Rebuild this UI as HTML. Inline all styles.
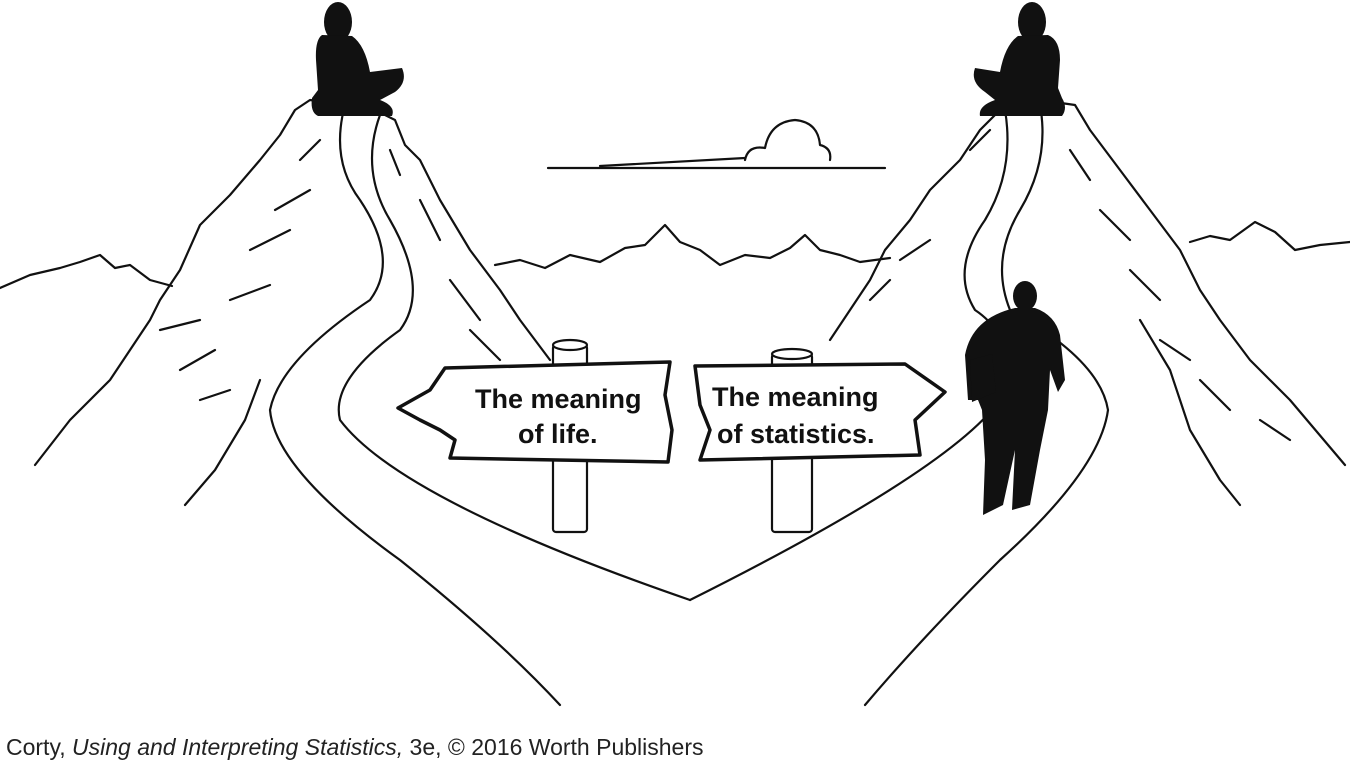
<!DOCTYPE html>
<html><head><meta charset="utf-8"><style>
html,body{margin:0;padding:0;background:#fff;}
body{width:1350px;height:767px;overflow:hidden;position:relative;}
svg{position:absolute;left:0;top:0;}
.cap{position:absolute;left:6px;top:734px;font-family:"Liberation Sans",sans-serif;font-size:23px;color:#222;white-space:nowrap;}
</style></head><body>
<svg width="1350" height="767" viewBox="0 0 1350 767" fill="none" stroke="#111" stroke-width="2.2" stroke-linejoin="round" stroke-linecap="round">
<path d="M0,288 L30,275 L60,268 L80,262 L100,255 L115,268 L130,265 L150,280 L172,286"/>
<path d="M495,265 L520,260 L545,268 L570,255 L600,262 L625,248 L645,245 L665,225 L680,242 L700,250 L720,265 L745,255 L770,258 L790,248 L805,235 L820,250 L840,255 L860,262 L890,258"/>
<path d="M1190,242 L1210,236 L1230,240 L1255,222 L1275,232 L1295,250 L1320,245 L1350,242"/>
<path d="M548,168 L885,168"/>
<path d="M600,166 L745,158"/>
<path d="M745,160 Q748,145 765,148 Q770,122 795,120 Q818,122 820,145 Q832,148 830,160"/>
<path d="M35,465 L70,420 L110,380 L150,320 L160,300 L180,270 L200,225 L230,195 L260,160 L280,135 L295,110 L310,100 L345,105 L375,110 L395,120 L405,145 L420,160 L440,200 L470,250 L500,290 L520,320 L550,360"/>
<path d="M185,505 L215,470 L245,420 L260,380"/>
<path d="M160,330 L200,320 M180,370 L215,350 M230,300 L270,285 M250,250 L290,230 M275,210 L310,190 M300,160 L320,140 M390,150 L400,175 M420,200 L440,240 M450,280 L480,320 M470,330 L500,360 M200,400 L230,390"/>
<path d="M830,340 L850,310 L870,280 L885,250 L910,220 L930,190 L960,160 L980,130 L1000,110 L1040,100 L1075,105 L1090,130 L1120,170 L1150,210 L1180,250 L1200,290 L1220,320 L1250,360 L1290,400 L1345,465"/>
<path d="M1140,320 L1170,370 L1190,430 L1220,480 L1240,505"/>
<path d="M900,260 L930,240 M870,300 L890,280 M970,150 L990,130 M1070,150 L1090,180 M1100,210 L1130,240 M1130,270 L1160,300 M1160,340 L1190,360 M1200,380 L1230,410 M1260,420 L1290,440"/>
<path d="M345,105 Q330,160 360,200 Q400,260 370,300 Q280,360 270,410 Q275,470 400,560 Q500,640 560,705"/>
<path d="M380,115 Q360,170 390,220 Q430,290 400,330 Q330,380 340,420 Q400,500 690,600"/>
<path d="M1040,105 Q1050,160 1020,210 Q990,260 1010,310 Q1100,360 1108,410 Q1100,470 1000,560 Q920,640 865,705"/>
<path d="M1005,110 Q1015,170 985,220 Q950,270 975,310 Q1020,340 1000,400 Q950,470 690,600"/>
<rect x="553" y="345" width="34" height="187" rx="3" fill="#fff"/>
<ellipse cx="570" cy="345" rx="17" ry="5" fill="#fff"/>
<rect x="772" y="354" width="40" height="178" rx="3" fill="#fff"/>
<ellipse cx="792" cy="354" rx="20" ry="5" fill="#fff"/>
<path d="M445,368 L670,362 L665,395 L672,430 L668,462 L450,458 L455,440 L440,430 L420,420 L398,408 L430,390 L445,368 Z" fill="#fff" stroke-width="3.5"/>
<path d="M695,366 L905,364 L945,392 L915,420 L920,455 L700,460 L710,430 L700,405 L695,366 Z" fill="#fff" stroke-width="3.5"/>
<g fill="#111" stroke="none" font-family="Liberation Sans, sans-serif" font-weight="bold" font-size="27">
<text x="475" y="408">The meaning</text>
<text x="518" y="443">of life.</text>
<text x="712" y="406">The meaning</text>
<text x="717" y="443">of statistics.</text>
</g>
<g fill="#111" stroke="none">
<!-- left seated -->
<ellipse cx="338" cy="22" rx="14" ry="20"/>
<path d="M322,35 Q315,40 316,60 L318,90 L312,98 Q310,112 318,116 L392,116 Q396,106 380,100 L395,92 Q408,82 402,68 L370,72 Q365,45 352,36 Z"/>
<!-- right seated -->
<ellipse cx="1032" cy="22" rx="14" ry="20"/>
<path d="M1018,36 Q1005,45 1000,72 L975,68 Q970,82 985,92 L995,100 Q978,106 980,116 L1062,116 Q1068,108 1062,98 L1058,88 L1060,60 Q1060,40 1048,35 Z"/>
<!-- walking man -->
<ellipse cx="1025" cy="296" rx="12" ry="15"/>
<path d="M1015,308 L1035,308 Q1055,315 1060,335 L1065,380 L1058,392 L1050,370 L1048,410 L1040,450 L1030,505 L1012,510 L1015,450 L1003,505 L983,515 L985,460 L982,410 L978,400 L968,400 L965,355 Q972,318 1015,308 Z"/>
<path d="M970,360 L992,354 L996,392 L972,402 Z"/>
</g>
</svg>
<div class="cap">Corty, <i>Using and Interpreting Statistics,</i> 3e, © 2016 Worth Publishers</div>
</body></html>
